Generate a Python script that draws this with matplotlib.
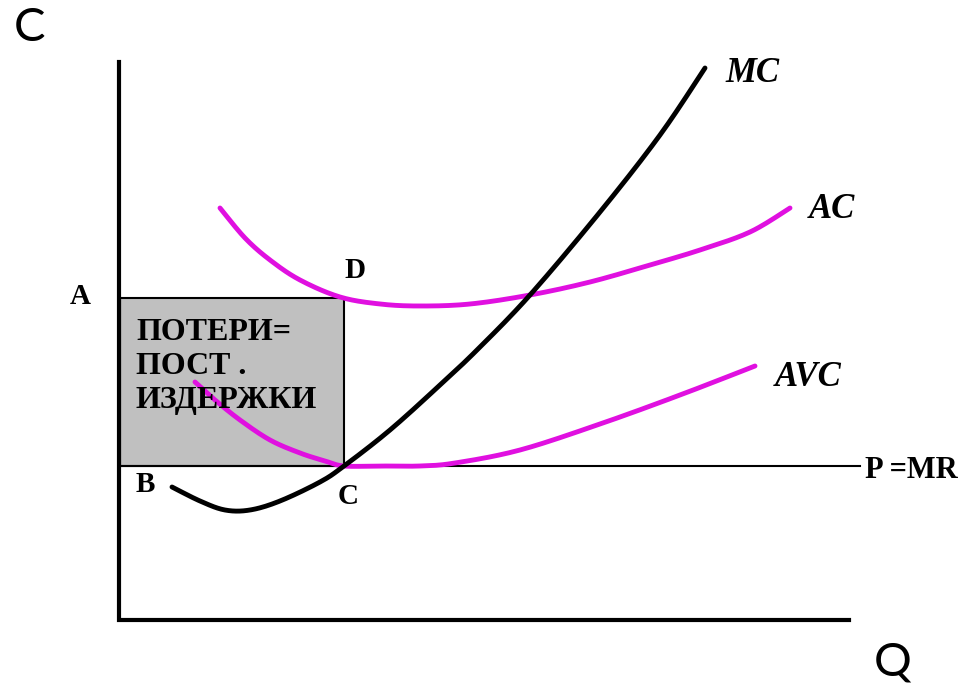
import numpy as np
from matplotlib import pyplot as plt
from matplotlib.patches import Rectangle

# curve points (pixel coordinates, y downward)
mc_x = [172, 200, 225, 250, 280, 320, 344, 390, 440, 477, 530, 600, 660, 705]
mc_y = [487, 501, 510, 510, 501, 482, 466, 430, 385, 350, 295, 212, 135, 68]

ac_x = [220, 245, 270, 300, 340, 380, 420, 470, 530, 590, 650, 700, 750, 790]
ac_y = [208, 238, 260, 280, 297, 304, 306, 304, 295, 282, 265, 250, 232, 208]

avc_x = [195, 215, 240, 270, 300, 325, 344, 380, 420, 455, 520, 600, 680, 755]
avc_y = [382, 400, 420, 440, 453, 461, 466, 466, 466, 463, 450, 424, 395, 366]

box_x = [120, 344]
box_y = [298, 466]
price_y = 466
price_x = [120, 860]

box_text = "ПОТЕРИ=\nПОСТ .\nИЗДЕРЖКИ"

PINK = "#e010e0"


def smooth(xs, ys, steps=20):
    # Catmull-Rom spline through the read points
    pts = np.c_[xs, ys].astype(float)
    out = []
    for i in range(len(pts) - 1):
        p0 = pts[max(i - 1, 0)]
        p1 = pts[i]
        p2 = pts[i + 1]
        p3 = pts[min(i + 2, len(pts) - 1)]
        for s in np.linspace(0, 1, steps, endpoint=False):
            s2, s3 = s * s, s * s * s
            out.append(0.5 * ((2 * p1) + (-p0 + p2) * s
                              + (2 * p0 - 5 * p1 + 4 * p2 - p3) * s2
                              + (-p0 + 3 * p1 - 3 * p2 + p3) * s3))
    out.append(pts[-1])
    out = np.array(out)
    return out[:, 0], out[:, 1]


fig = plt.figure(figsize=(9.65, 6.87), dpi=100)
ax = fig.add_axes([0, 0, 1, 1])
ax.set_xlim(0, 965)
ax.set_ylim(687, 0)
ax.axis('off')

# shaded loss box
ax.add_patch(Rectangle((box_x[0], box_y[0]), box_x[1] - box_x[0], box_y[1] - box_y[0],
                       facecolor="#c0c0c0", edgecolor="black", linewidth=1.5, zorder=1))

# price line
ax.plot(price_x, [price_y, price_y], color="black", linewidth=1.5, zorder=2)

# axes
ax.plot([119, 119, 849], [62, 620, 620], color="black", linewidth=3, zorder=3,
        solid_joinstyle="miter")

x, y = smooth(ac_x, ac_y)
ax.plot(x, y, color=PINK, linewidth=3.5, solid_capstyle="round", zorder=4)
x, y = smooth(avc_x, avc_y)
ax.plot(x, y, color=PINK, linewidth=3.5, solid_capstyle="round", zorder=4)
x, y = smooth(mc_x, mc_y)
ax.plot(x, y, color="black", linewidth=3.5, solid_capstyle="round", zorder=5)

ax.text(136, 318, box_text, fontfamily="Liberation Serif", fontweight="bold",
        fontsize=23, va="top", ha="left", linespacing=1.22, zorder=6)

serif = dict(fontfamily="Liberation Serif", fontweight="bold", ha="center", va="center")
ax.text(80, 296, "A", fontsize=21, **serif)
ax.text(145, 485, "B", fontsize=21, **serif)
ax.text(348, 496, "C", fontsize=21, **serif)
ax.text(355, 271, "D", fontsize=21, **serif)
ax.text(911, 470, "P =MR", fontsize=22, **serif)

ital = dict(fontfamily="Liberation Serif", fontweight="bold", fontstyle="italic",
            ha="center", va="center")
ax.text(752, 74, "MC", fontsize=25, **ital)
ax.text(832, 210, "AC", fontsize=25, **ital)
ax.text(808, 377, "AVC", fontsize=25, **ital)

ax.text(30, 28, "C", fontfamily="Lato", fontsize=34, ha="center", va="center")
ax.text(893, 663, "Q", fontfamily="Lato", fontsize=34, ha="center", va="center")

fig.savefig("out.png", dpi=100)
